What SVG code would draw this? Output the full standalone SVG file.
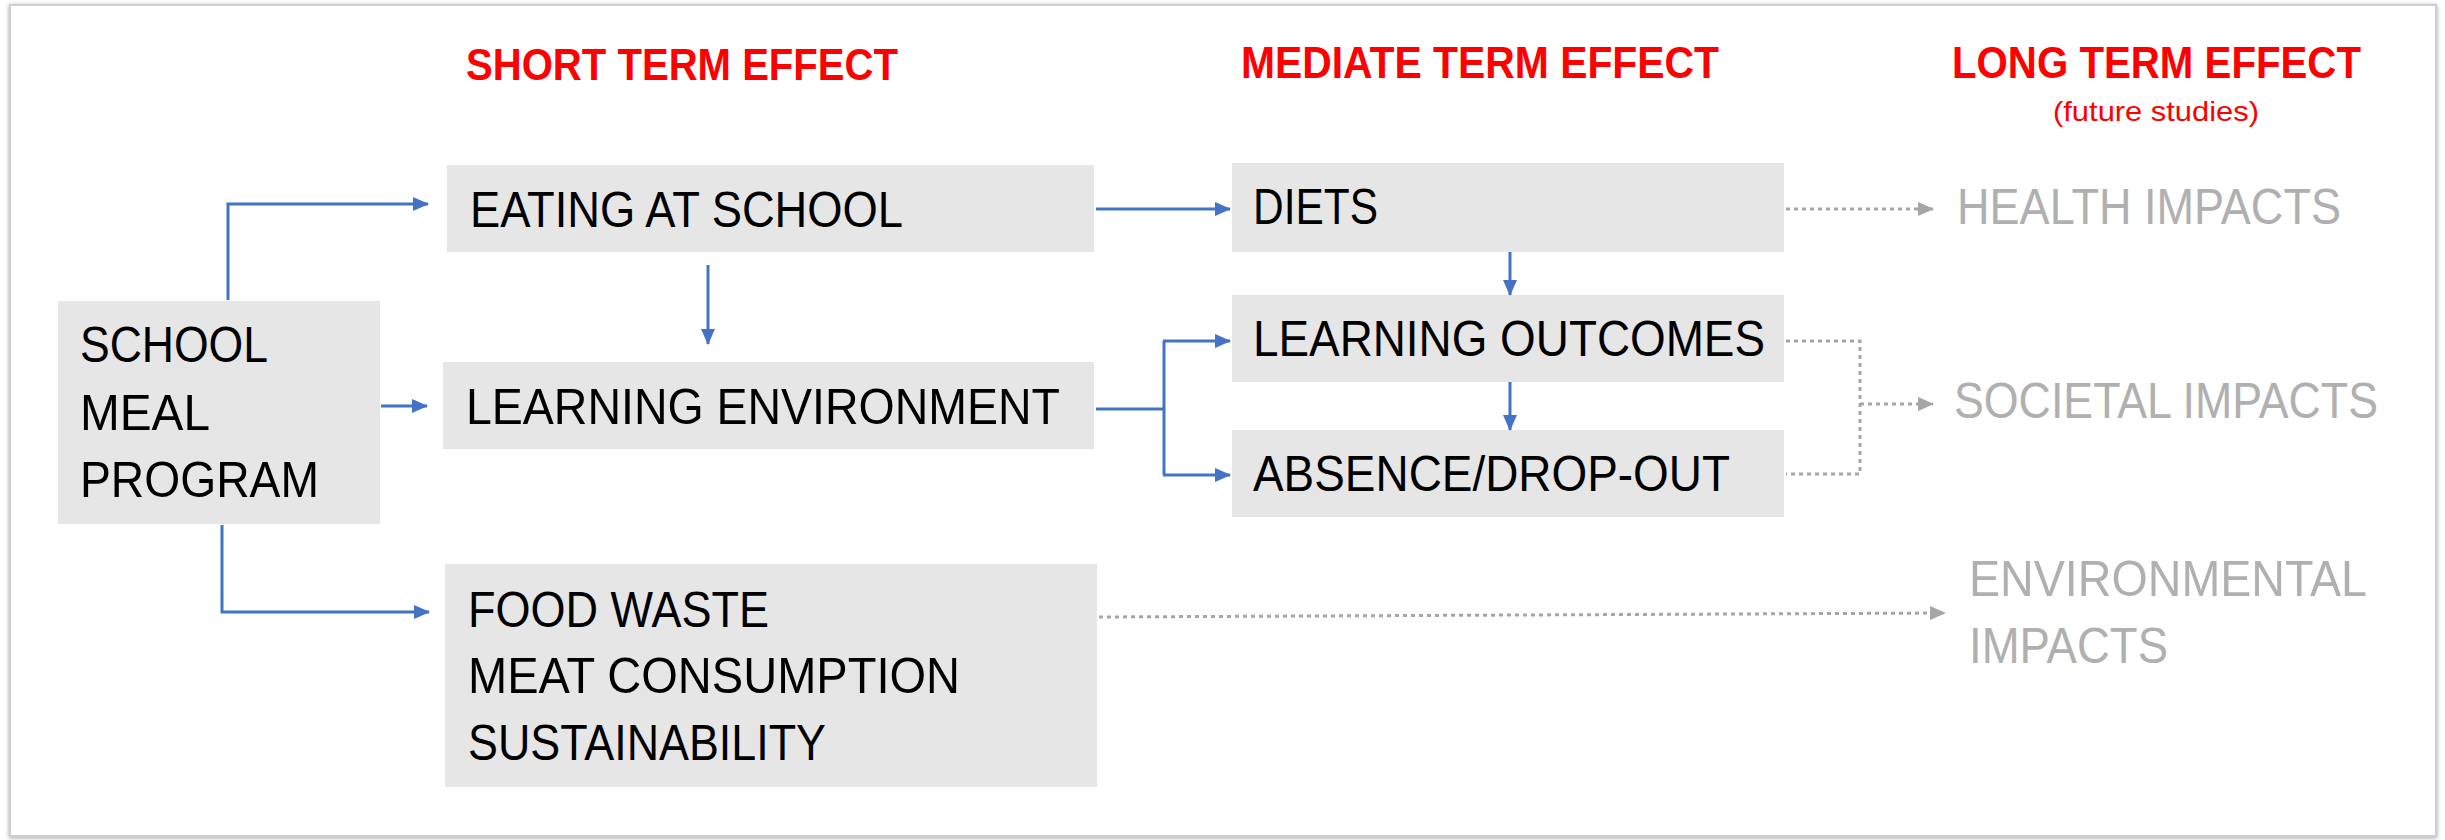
<svg xmlns="http://www.w3.org/2000/svg" width="2445" height="840" viewBox="0 0 2445 840">
<defs>
<style>
.box{fill:#e7e6e6}
.t{font-family:"Liberation Sans",Arial,sans-serif;font-size:50px;fill:#000}
.g{font-family:"Liberation Sans",Arial,sans-serif;font-size:50px;fill:#b0b0b0}
.h{font-family:"Liberation Sans",Arial,sans-serif;font-size:44px;font-weight:bold;fill:#ff0000}
.s{font-family:"Liberation Sans",Arial,sans-serif;font-size:28px;fill:#ff0000}
.blue{fill:none;stroke:#4472c4;stroke-width:3}
.dot{fill:none;stroke:#a6a6a6;stroke-width:3;stroke-dasharray:4 4}
</style>
<marker id="ab" viewBox="0 0 16 14" refX="15" refY="7" markerWidth="16" markerHeight="14" markerUnits="userSpaceOnUse" orient="auto">
<path d="M0,0 L16,7 L0,14 Z" fill="#4472c4"/>
</marker>
<marker id="ag" viewBox="0 0 16 14" refX="15" refY="7" markerWidth="16" markerHeight="14" markerUnits="userSpaceOnUse" orient="auto">
<path d="M0,0 L16,7 L0,14 Z" fill="#a6a6a6"/>
</marker>
<filter id="sh" x="-2%" y="-2%" width="104%" height="106%">
<feDropShadow dx="0" dy="1" stdDeviation="2" flood-color="#000" flood-opacity="0.35"/>
</filter>
</defs>
<rect x="0" y="0" width="2445" height="840" fill="#ffffff"/>
<rect x="10" y="5" width="2426" height="831" fill="#ffffff" stroke="#cfcfcf" stroke-width="2" filter="url(#sh)"/>

<g id="headers">
<text class="h" x="466" y="80" textLength="432" lengthAdjust="spacingAndGlyphs">SHORT TERM EFFECT</text>
<text class="h" x="1241" y="78" textLength="478" lengthAdjust="spacingAndGlyphs">MEDIATE TERM EFFECT</text>
<text class="h" x="1952" y="78" textLength="409" lengthAdjust="spacingAndGlyphs">LONG TERM EFFECT</text>
<text class="s" x="2053" y="121" textLength="206" lengthAdjust="spacingAndGlyphs">(future studies)</text>
</g>

<g id="smp">
<rect class="box" x="58" y="301" width="322" height="223"/>
<text class="t" x="80" y="362" textLength="188" lengthAdjust="spacingAndGlyphs">SCHOOL</text>
<text class="t" x="80" y="430" textLength="130" lengthAdjust="spacingAndGlyphs">MEAL</text>
<text class="t" x="80" y="497" textLength="239" lengthAdjust="spacingAndGlyphs">PROGRAM</text>
</g>

<g id="eating">
<rect class="box" x="447" y="165" width="647" height="87"/>
<text class="t" x="470" y="227" textLength="433" lengthAdjust="spacingAndGlyphs">EATING AT SCHOOL</text>
</g>

<g id="learnenv">
<rect class="box" x="443" y="362" width="651" height="87"/>
<text class="t" x="466" y="424" textLength="594" lengthAdjust="spacingAndGlyphs">LEARNING ENVIRONMENT</text>
</g>

<g id="foodwaste">
<rect class="box" x="445" y="564" width="652" height="223"/>
<text class="t" x="468" y="627" textLength="301" lengthAdjust="spacingAndGlyphs">FOOD WASTE</text>
<text class="t" x="468" y="693" textLength="492" lengthAdjust="spacingAndGlyphs">MEAT CONSUMPTION</text>
<text class="t" x="468" y="760" textLength="358" lengthAdjust="spacingAndGlyphs">SUSTAINABILITY</text>
</g>

<g id="diets">
<rect class="box" x="1232" y="163" width="552" height="89"/>
<text class="t" x="1253" y="224" textLength="125" lengthAdjust="spacingAndGlyphs">DIETS</text>
</g>

<g id="outcomes">
<rect class="box" x="1232" y="295" width="552" height="87"/>
<text class="t" x="1253" y="356" textLength="512" lengthAdjust="spacingAndGlyphs">LEARNING OUTCOMES</text>
</g>

<g id="absence">
<rect class="box" x="1232" y="430" width="552" height="87"/>
<text class="t" x="1253" y="491" textLength="477" lengthAdjust="spacingAndGlyphs">ABSENCE/DROP-OUT</text>
</g>

<g id="health">
<text class="g" x="1957" y="224" textLength="384" lengthAdjust="spacingAndGlyphs">HEALTH IMPACTS</text>
</g>
<g id="societal">
<text class="g" x="1954" y="418" textLength="424" lengthAdjust="spacingAndGlyphs">SOCIETAL IMPACTS</text>
</g>
<g id="environmental">
<text class="g" x="1969" y="596" textLength="398" lengthAdjust="spacingAndGlyphs">ENVIRONMENTAL</text>
<text class="g" x="1969" y="663" textLength="199" lengthAdjust="spacingAndGlyphs">IMPACTS</text>
</g>

<g id="connectors">
<path class="blue" d="M228,300 V204 H428" marker-end="url(#ab)"/>
<path class="blue" d="M381,406 H427" marker-end="url(#ab)"/>
<path class="blue" d="M708,265 V344" marker-end="url(#ab)"/>
<path class="blue" d="M222,525 V612 H429" marker-end="url(#ab)"/>
<path class="blue" d="M1096,209 H1230" marker-end="url(#ab)"/>
<path class="blue" d="M1096,409 H1164"/>
<path class="blue" d="M1164,341 V475"/>
<path class="blue" d="M1163,341 H1230" marker-end="url(#ab)"/>
<path class="blue" d="M1163,475 H1230" marker-end="url(#ab)"/>
<path class="blue" d="M1510,252 V295" marker-end="url(#ab)"/>
<path class="blue" d="M1510,382 V430" marker-end="url(#ab)"/>
<path class="dot" d="M1786,209 H1933" marker-end="url(#ag)"/>
<path class="dot" d="M1786,341 H1860 V474 H1786"/>
<path class="dot" d="M1860,404 H1933" marker-end="url(#ag)"/>
<path class="dot" d="M1099,617 L1945,613" marker-end="url(#ag)"/>
</g>
</svg>
